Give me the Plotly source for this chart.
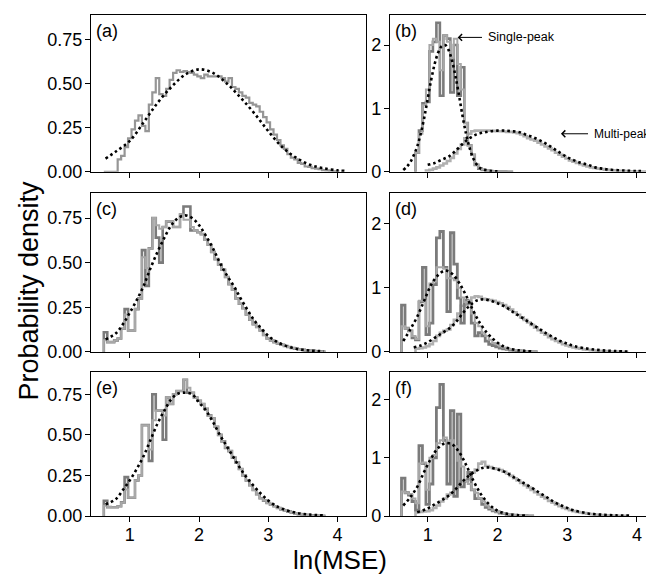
import plotly.graph_objects as go

# ---------------- data ----------------
BIN_WIDTH = 0.05

# (a)
A_START = 0.625
A_HIST = [0, 0, 0, 0, 0.07, 0.09, 0.14, 0.19, 0.24, 0.29, 0.32, 0.26, 0.23, 0.38, 0.45, 0.53, 0.44, 0.43,
          0.47, 0.52, 0.56, 0.575, 0.565, 0.57, 0.565, 0.56, 0.55, 0.54, 0.53, 0.55, 0.54, 0.54, 0.54, 0.54,
          0.53, 0.51, 0.53, 0.48, 0.47, 0.45, 0.43, 0.42, 0.39, 0.38, 0.37, 0.34, 0.31, 0.28, 0.24, 0.21,
          0.18, 0.15, 0.13, 0.10, 0.08, 0.07, 0.05, 0.045, 0.03, 0.028, 0.02, 0.018, 0.015, 0.01, 0.008,
          0.006, 0.003, 0.002]
A_FIT_X = [0.65, 0.8, 1.0, 1.2, 1.4, 1.6, 1.8, 2.0, 2.2, 2.4, 2.6, 2.8, 3.0, 3.2, 3.4, 3.6, 3.8, 4.0, 4.1]
A_FIT_Y = [0.075, 0.115, 0.175, 0.28, 0.39, 0.48, 0.55, 0.58, 0.56, 0.5, 0.42, 0.33, 0.23, 0.14, 0.08,
           0.04, 0.02, 0.008, 0.005]

# (b)
B_SINGLE_START = 0.825
B_SINGLE_DARK = [0.3, 0.65, 1.08, 1.1, 1.9, 2.05, 2.35, 1.2, 2.15, 2.1, 1.25, 2.0, 1.2, 1.65, 0.77, 0.42,
                 0.27, 0.11, 0.05, 0.03, 0.02, 0.012, 0.008, 0.005, 0.004, 0.003, 0.002, 0.001]
B_SINGLE_LIGHT = [0.3, 0.6, 1.05, 1.3, 2.0, 2.1, 2.05, 1.6, 2.15, 2.05, 1.8, 2.1, 1.7, 1.3, 0.77, 0.42,
                  0.27, 0.11, 0.06, 0.035, 0.02, 0.012, 0.008, 0.005, 0.004, 0.003, 0.002, 0.001]
B_MULTI_START = 0.975
B_MULTI = [0.02, 0.03, 0.05, 0.07, 0.10, 0.13, 0.17, 0.22, 0.29, 0.36, 0.43, 0.53, 0.60, 0.64, 0.65, 0.65,
           0.65, 0.65, 0.65, 0.645, 0.64, 0.64, 0.635, 0.63, 0.63, 0.62, 0.61, 0.59, 0.56, 0.53, 0.51,
           0.49, 0.46, 0.43, 0.40, 0.37, 0.34, 0.30, 0.27, 0.24, 0.21, 0.18, 0.16, 0.14, 0.12, 0.10,
           0.085, 0.07, 0.06, 0.05, 0.045, 0.035, 0.03, 0.025, 0.02, 0.017, 0.014, 0.011, 0.009, 0.007,
           0.005, 0.004, 0.003, 0.002]
B_SFIT_X = [0.65, 0.7, 0.75, 0.8, 0.85, 0.9, 0.95, 1.0, 1.05, 1.1, 1.15, 1.2, 1.25, 1.3, 1.35, 1.4, 1.45,
            1.5, 1.55, 1.6, 1.65, 1.7, 1.75, 1.8, 1.9, 2.0]
B_SFIT_Y = [0.03, 0.08, 0.15, 0.26, 0.4, 0.6, 0.85, 1.15, 1.45, 1.7, 1.88, 1.98, 2.0, 1.92, 1.75, 1.5, 1.2,
            0.88, 0.6, 0.38, 0.22, 0.12, 0.06, 0.035, 0.015, 0.007]
B_MFIT_X = [1.0, 1.1, 1.2, 1.3, 1.4, 1.5, 1.6, 1.7, 1.8, 1.9, 2.0, 2.1, 2.2, 2.3, 2.4, 2.5, 2.6, 2.7, 2.8,
            2.9, 3.0, 3.1, 3.2, 3.3, 3.4, 3.5, 3.6, 3.8, 4.0, 4.1]
B_MFIT_Y = [0.11, 0.14, 0.19, 0.24, 0.33, 0.44, 0.53, 0.59, 0.62, 0.64, 0.65, 0.65, 0.64, 0.63, 0.59, 0.55,
            0.5, 0.44, 0.37, 0.3, 0.23, 0.18, 0.14, 0.11, 0.07, 0.05, 0.035, 0.02, 0.012, 0.01]

# (c)
C_START = 0.625
C_LIGHT = [0.065, 0.055, 0.055, 0.065, 0.075, 0.13, 0.21, 0.12, 0.12, 0.24, 0.30, 0.53, 0.47, 0.58, 0.75,
           0.71, 0.69, 0.70, 0.73, 0.73, 0.70, 0.70, 0.77, 0.74, 0.74, 0.70, 0.68, 0.67, 0.66, 0.63, 0.60,
           0.56, 0.52, 0.49, 0.46, 0.42, 0.38, 0.35, 0.30, 0.27, 0.245, 0.21, 0.18, 0.155, 0.14, 0.12,
           0.095, 0.075, 0.064, 0.055, 0.046, 0.04, 0.033, 0.028, 0.022, 0.018, 0.015, 0.012, 0.009,
           0.008, 0.006, 0.004, 0.003, 0.002]
C_DARK = [0.11, 0.055, 0.055, 0.065, 0.075, 0.13, 0.24, 0.12, 0.12, 0.24, 0.30, 0.57, 0.37, 0.58, 0.75,
          0.64, 0.50, 0.70, 0.73, 0.73, 0.70, 0.70, 0.77, 0.815, 0.815, 0.68, 0.68, 0.67, 0.66, 0.63, 0.60,
          0.56, 0.52, 0.49, 0.46, 0.42, 0.38, 0.35, 0.30, 0.27, 0.245, 0.21, 0.18, 0.155, 0.14, 0.12,
          0.095, 0.075, 0.064, 0.055, 0.046, 0.04, 0.033, 0.028, 0.022, 0.018, 0.015, 0.012, 0.009,
          0.008, 0.006, 0.004, 0.003, 0.002]
C_FIT_X = [0.65, 0.8, 0.9, 1.0, 1.1, 1.2, 1.3, 1.4, 1.5, 1.6, 1.7, 1.8, 1.9, 2.0, 2.1, 2.2, 2.3, 2.4, 2.5,
           2.6, 2.7, 2.8, 2.9, 3.0, 3.1, 3.2, 3.4, 3.6, 3.8]
C_FIT_Y = [0.07, 0.105, 0.155, 0.22, 0.29, 0.37, 0.47, 0.56, 0.64, 0.71, 0.75, 0.765, 0.75, 0.71, 0.65,
           0.58, 0.5, 0.43, 0.37, 0.30, 0.235, 0.175, 0.13, 0.09, 0.062, 0.042, 0.018, 0.008, 0.004]

# (d)
D_SINGLE_START = 0.625
D_SINGLE_LIGHT = [0.40, 0.37, 0.33, 0.25, 0.20, 0.80, 0.80, 0.40, 1.07, 1.10, 1.32, 1.32, 1.30, 1.15, 1.15,
                  1.12, 1.0, 0.85, 0.78, 0.80, 0.60, 0.45, 0.40, 0.30, 0.25, 0.19, 0.14, 0.12, 0.09, 0.07,
                  0.05, 0.04, 0.03, 0.025, 0.02, 0.015, 0.01, 0.008, 0.005]
D_SINGLE_DARK = [0.73, 0.37, 0.33, 0.22, 0.19, 0.78, 1.32, 0.27, 0.45, 1.05, 1.78, 1.88, 1.32, 0.63, 1.86,
                 1.37, 0.84, 0.45, 0.81, 0.76, 0.45, 0.25, 0.30, 0.25, 0.17, 0.12, 0.10, 0.08, 0.06, 0.05,
                 0.04, 0.03, 0.025, 0.02, 0.015, 0.01, 0.008, 0.005, 0.003]
D_MULTI_START = 0.825
D_MULTI = [0.05, 0.06, 0.07, 0.09, 0.12, 0.17, 0.25, 0.30, 0.33, 0.35, 0.42, 0.50, 0.60, 0.72, 0.73, 0.80,
           0.85, 0.87, 0.86, 0.83, 0.82, 0.81, 0.80, 0.78, 0.76, 0.73, 0.70, 0.66, 0.62, 0.58, 0.54, 0.50,
           0.46, 0.42, 0.38, 0.34, 0.30, 0.27, 0.23, 0.20, 0.17, 0.15, 0.12, 0.10, 0.085, 0.07, 0.06, 0.05,
           0.04, 0.033, 0.027, 0.022, 0.018, 0.015, 0.012, 0.01, 0.008, 0.006, 0.005, 0.004, 0.003]
D_SFIT_X = [0.65, 0.75, 0.85, 0.95, 1.05, 1.15, 1.25, 1.35, 1.45, 1.55, 1.65, 1.75, 1.85, 1.95, 2.05,
            2.15, 2.3, 2.5]
D_SFIT_Y = [0.17, 0.35, 0.55, 0.8, 1.05, 1.2, 1.27, 1.22, 1.08, 0.88, 0.65, 0.45, 0.3, 0.19, 0.11, 0.06,
            0.025, 0.008]
D_MFIT_X = [0.8, 0.9, 1.0, 1.1, 1.2, 1.3, 1.4, 1.5, 1.6, 1.7, 1.8, 1.9, 2.0, 2.1, 2.2, 2.3, 2.4, 2.5, 2.6,
            2.7, 2.8, 2.9, 3.0, 3.1, 3.3, 3.5, 3.7, 3.9]
D_MFIT_Y = [0.07, 0.1, 0.15, 0.22, 0.29, 0.36, 0.46, 0.6, 0.72, 0.8, 0.82, 0.8, 0.76, 0.71, 0.64, 0.57,
            0.5, 0.43, 0.36, 0.29, 0.23, 0.17, 0.13, 0.09, 0.05, 0.025, 0.012, 0.005]

# (e)
E_START = 0.625
E_LIGHT = [0.064, 0.055, 0.054, 0.054, 0.06, 0.084, 0.163, 0.113, 0.113, 0.22, 0.25, 0.56, 0.56, 0.41, 0.59,
           0.65, 0.65, 0.62, 0.73, 0.69, 0.75, 0.77, 0.77, 0.84, 0.79, 0.76, 0.73, 0.71, 0.69, 0.66, 0.62,
           0.60, 0.55, 0.50, 0.46, 0.42, 0.40, 0.36, 0.33, 0.29, 0.25, 0.22, 0.19, 0.16, 0.135, 0.11, 0.095,
           0.08, 0.07, 0.06, 0.05, 0.04, 0.034, 0.027, 0.02, 0.016, 0.012, 0.01, 0.007, 0.005, 0.004,
           0.003, 0.002, 0.001]
E_DARK = [0.094, 0.055, 0.054, 0.054, 0.06, 0.084, 0.24, 0.113, 0.113, 0.22, 0.25, 0.56, 0.56, 0.34, 0.75,
          0.65, 0.65, 0.47, 0.73, 0.69, 0.75, 0.77, 0.77, 0.84, 0.76, 0.76, 0.73, 0.71, 0.69, 0.66, 0.62,
          0.60, 0.55, 0.50, 0.46, 0.42, 0.40, 0.36, 0.33, 0.29, 0.25, 0.22, 0.19, 0.16, 0.135, 0.11, 0.095,
          0.08, 0.07, 0.06, 0.05, 0.04, 0.034, 0.027, 0.02, 0.016, 0.012, 0.01, 0.007, 0.005, 0.004,
          0.003, 0.002, 0.001]
E_FIT_X = [0.65, 0.8, 0.9, 1.0, 1.1, 1.2, 1.3, 1.4, 1.5, 1.6, 1.7, 1.8, 1.9, 2.0, 2.1, 2.2, 2.3, 2.4, 2.5,
           2.6, 2.7, 2.8, 2.9, 3.0, 3.1, 3.2, 3.4, 3.6, 3.8]
E_FIT_Y = [0.072, 0.105, 0.16, 0.22, 0.29, 0.37, 0.47, 0.57, 0.65, 0.72, 0.755, 0.76, 0.75, 0.70, 0.65,
           0.58, 0.50, 0.43, 0.36, 0.29, 0.23, 0.18, 0.135, 0.095, 0.065, 0.045, 0.02, 0.009, 0.004]

# (f)
F_SINGLE_START = 0.625
F_SINGLE_LIGHT = [0.42, 0.40, 0.38, 0.30, 0.22, 0.90, 0.92, 0.45, 1.0, 1.05, 1.25, 1.30, 1.35, 1.28, 1.30,
                  1.20, 0.95, 0.85, 0.6, 0.55, 0.45, 0.4, 0.3, 0.25, 0.18, 0.14, 0.1, 0.08, 0.06, 0.045,
                  0.035, 0.025, 0.02, 0.015, 0.01, 0.007, 0.005, 0.003]
F_SINGLE_DARK = [0.65, 0.40, 0.36, 0.25, 0.10, 1.21, 0.9, 0.2, 0.55, 1.0, 1.86, 2.26, 1.3, 0.55, 1.81, 0.34,
                 1.75, 0.5, 0.6, 0.75, 0.45, 0.3, 0.3, 0.2, 0.15, 0.12, 0.09, 0.07, 0.05, 0.04, 0.03,
                 0.02, 0.015, 0.01, 0.008, 0.005, 0.003, 0.002]
F_MULTI_START = 0.825
F_MULTI = [0.06, 0.07, 0.08, 0.085, 0.10, 0.14, 0.18, 0.25, 0.30, 0.37, 0.40, 0.45, 0.55, 0.60, 0.62, 0.63,
           0.75, 0.80, 0.90, 0.93, 0.86, 0.84, 0.82, 0.81, 0.79, 0.76, 0.73, 0.69, 0.65, 0.61, 0.57, 0.53,
           0.49, 0.45, 0.41, 0.37, 0.33, 0.30, 0.26, 0.23, 0.20, 0.17, 0.14, 0.12, 0.10, 0.085, 0.07, 0.06,
           0.05, 0.04, 0.033, 0.027, 0.022, 0.018, 0.014, 0.011, 0.009, 0.007, 0.005, 0.004, 0.003]
F_SFIT_X = [0.65, 0.75, 0.85, 0.95, 1.05, 1.15, 1.25, 1.35, 1.45, 1.55, 1.65, 1.75, 1.85, 1.95, 2.05, 2.2,
            2.4]
F_SFIT_Y = [0.18, 0.32, 0.5, 0.76, 0.99, 1.17, 1.25, 1.23, 1.1, 0.88, 0.62, 0.40, 0.24, 0.13, 0.065, 0.025,
            0.008]
F_MFIT_X = [0.85, 1.0, 1.1, 1.2, 1.3, 1.4, 1.5, 1.6, 1.7, 1.8, 1.9, 2.0, 2.1, 2.2, 2.3, 2.4, 2.5, 2.6, 2.7,
            2.8, 2.9, 3.0, 3.1, 3.3, 3.5, 3.7, 3.9]
F_MFIT_Y = [0.065, 0.13, 0.2, 0.27, 0.35, 0.46, 0.59, 0.7, 0.78, 0.83, 0.83, 0.80, 0.76, 0.69, 0.62, 0.55,
            0.48, 0.40, 0.33, 0.25, 0.19, 0.14, 0.095, 0.045, 0.023, 0.011, 0.006]

X_TICKS = [1, 2, 3, 4]
LEFT_Y_TICKS = [0, 0.25, 0.5, 0.75]
LEFT_Y_LABELS = ["0.00", "0.25", "0.50", "0.75"]
RIGHT_Y_TICKS = [0, 1, 2]
RIGHT_Y_LABELS = ["0", "1", "2"]
PANEL_LABELS = ["(a)", "(b)", "(c)", "(d)", "(e)", "(f)"]

# ---------------- figure ----------------
W, H = 654, 577
FONT = "Liberation Sans, Arial, sans-serif"
DARK = "#7b7b7b"
LIGHT = "#a8a8a8"

fig = go.Figure()


def ax_id(i):
    return "" if i == 1 else str(i)


def step_xy(start, vals):
    edges = [start + BIN_WIDTH * i for i in range(len(vals) + 1)]
    xs = [edges[0]] + edges
    ys = [0] + list(vals) + [vals[-1]]
    return xs, ys


def add_hist(panel, start, vals, color, width):
    xs, ys = step_xy(start, vals)
    fig.add_trace(go.Scatter(x=xs, y=ys, mode="lines",
                             line=dict(color=color, width=width, shape="hv"),
                             xaxis="x" + ax_id(panel), yaxis="y" + ax_id(panel),
                             hoverinfo="skip", showlegend=False))


def add_fit(panel, xs, ys):
    fig.add_trace(go.Scatter(x=xs, y=ys, mode="lines",
                             line=dict(color="black", width=2.6, dash="2.6px,3px", shape="spline"),
                             xaxis="x" + ax_id(panel), yaxis="y" + ax_id(panel),
                             hoverinfo="skip", showlegend=False))


# (a)
add_hist(1, A_START, A_HIST, "#969696", 2.2)
add_fit(1, A_FIT_X, A_FIT_Y)
# (b)
add_hist(2, B_MULTI_START, B_MULTI, "#b0b0b0", 2.6)
add_hist(2, B_SINGLE_START, B_SINGLE_DARK, DARK, 2.6)
add_hist(2, B_SINGLE_START, B_SINGLE_LIGHT, LIGHT, 2.0)
add_fit(2, B_SFIT_X, B_SFIT_Y)
add_fit(2, B_MFIT_X, B_MFIT_Y)
# (c)
add_hist(3, C_START, C_DARK, DARK, 2.6)
add_hist(3, C_START, C_LIGHT, LIGHT, 2.0)
add_fit(3, C_FIT_X, C_FIT_Y)
# (d)
add_hist(4, D_MULTI_START, D_MULTI, "#b0b0b0", 2.6)
add_hist(4, D_SINGLE_START, D_SINGLE_DARK, DARK, 2.8)
add_hist(4, D_SINGLE_START, D_SINGLE_LIGHT, LIGHT, 2.0)
add_fit(4, D_SFIT_X, D_SFIT_Y)
add_fit(4, D_MFIT_X, D_MFIT_Y)
# (e)
add_hist(5, E_START, E_DARK, DARK, 2.6)
add_hist(5, E_START, E_LIGHT, LIGHT, 2.0)
add_fit(5, E_FIT_X, E_FIT_Y)
# (f)
add_hist(6, F_MULTI_START, F_MULTI, "#b0b0b0", 2.6)
add_hist(6, F_SINGLE_START, F_SINGLE_DARK, DARK, 2.8)
add_hist(6, F_SINGLE_START, F_SINGLE_LIGHT, LIGHT, 2.0)
add_fit(6, F_SFIT_X, F_SFIT_Y)
add_fit(6, F_MFIT_X, F_MFIT_Y)

# panel geometry (pixels)
col_px = [(83, 358), (382, 652)]
row_px = [(6.7, 166.7), (188.3, 350), (370, 517)]
x_ranges = [[0.44, 4.41], [0.46, 4.33]]
y_ranges = [[0, 0.89], [0, 2.48]]

layout = dict(width=W, height=H, margin=dict(l=0, r=0, t=0, b=0),
              paper_bgcolor="white", plot_bgcolor="white",
              font=dict(family=FONT, size=18, color="black"), showlegend=False)

annotations = []
for i in range(6):
    panel = i + 1
    r, c = divmod(i, 2)
    x0, x1 = col_px[c]
    y0, y1 = row_px[r]
    layout["xaxis" + ax_id(panel)] = dict(
        domain=[x0 / W, x1 / W], range=x_ranges[c], anchor="y" + ax_id(panel),
        tickvals=X_TICKS, ticks="outside", ticklen=5, tickwidth=1.3, tickcolor="black",
        showline=True, linecolor="black", linewidth=1.3, mirror=True,
        showgrid=False, zeroline=False, showticklabels=(r == 2), ticklabelstandoff=-3,
        tickfont=dict(size=18, family=FONT))
    layout["yaxis" + ax_id(panel)] = dict(
        domain=[1 - y1 / H, 1 - y0 / H], range=y_ranges[c], anchor="x" + ax_id(panel),
        tickvals=LEFT_Y_TICKS if c == 0 else RIGHT_Y_TICKS,
        ticktext=LEFT_Y_LABELS if c == 0 else RIGHT_Y_LABELS,
        ticks="outside", ticklen=5, tickwidth=1.3, tickcolor="black",
        showline=True, linecolor="black", linewidth=1.3, mirror=True, ticklabelstandoff=-1,
        showgrid=False, zeroline=False, tickfont=dict(size=18, family=FONT))
    annotations.append(dict(text=PANEL_LABELS[i], xref="x" + ax_id(panel) + " domain",
                            yref="y" + ax_id(panel) + " domain", x=0, y=1,
                            xanchor="left", yanchor="top", xshift=3, yshift=-4,
                            showarrow=False, font=dict(size=18, family=FONT)))

# arrows and labels in (b)
annotations += [
    dict(x=1.43, y=2.12, ax=1.80, ay=2.12, xref="x2", yref="y2", axref="x2", ayref="y2",
         text="", showarrow=True, arrowhead=4, arrowsize=1.3, arrowwidth=1, arrowcolor="black"),
    dict(x=1.84, y=2.12, xref="x2", yref="y2", text="Single-peak", showarrow=False,
         xanchor="left", yanchor="middle", font=dict(size=12.5, family=FONT)),
    dict(x=2.91, y=0.60, ax=3.32, ay=0.60, xref="x2", yref="y2", axref="x2", ayref="y2",
         text="", showarrow=True, arrowhead=4, arrowsize=1.3, arrowwidth=1, arrowcolor="black"),
    dict(x=3.36, y=0.60, xref="x2", yref="y2", text="Multi-peak", showarrow=False,
         xanchor="left", yanchor="middle", font=dict(size=12, family=FONT)),
    dict(text="Probability density", xref="paper", yref="paper", x=21 / W, y=1 - 287.5 / H,
         textangle=-90, showarrow=False, xanchor="center", yanchor="middle",
         font=dict(size=27, family=FONT)),
    dict(text="ln(MSE)", xref="paper", yref="paper", x=332 / W, y=1 - 562 / H,
         showarrow=False, xanchor="center", yanchor="middle", font=dict(size=26, family=FONT)),
]
layout["annotations"] = annotations
fig.update_layout(**layout)

fig.write_html("out.html")
